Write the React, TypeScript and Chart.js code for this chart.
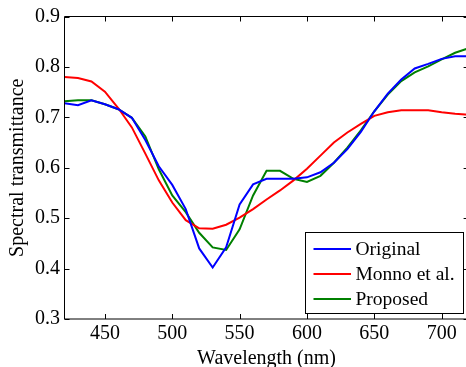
import React, { useEffect, useRef } from "react";
import { Chart, registerables } from "chart.js";

Chart.register(...registerables);

const wavelengths = [420, 430, 440, 450, 460, 470, 480, 490, 500, 510, 520, 530, 540, 550, 560, 570, 580, 590, 600, 610, 620, 630, 640, 650, 660, 670, 680, 690, 700, 710, 720];

const original = [0.728, 0.724, 0.734, 0.726, 0.716, 0.699, 0.655, 0.603, 0.566, 0.518, 0.440, 0.402, 0.442, 0.527, 0.567, 0.578, 0.578, 0.578, 0.581, 0.591, 0.610, 0.637, 0.671, 0.712, 0.747, 0.775, 0.797, 0.806, 0.816, 0.821, 0.821];

const monno = [0.780, 0.778, 0.771, 0.751, 0.718, 0.680, 0.628, 0.575, 0.531, 0.496, 0.480, 0.479, 0.487, 0.501, 0.518, 0.537, 0.555, 0.575, 0.598, 0.624, 0.650, 0.670, 0.687, 0.703, 0.710, 0.714, 0.714, 0.714, 0.710, 0.707, 0.705];

const proposed = [0.732, 0.734, 0.734, 0.726, 0.716, 0.699, 0.662, 0.597, 0.545, 0.512, 0.471, 0.442, 0.437, 0.478, 0.545, 0.594, 0.594, 0.578, 0.572, 0.584, 0.610, 0.640, 0.674, 0.712, 0.745, 0.772, 0.789, 0.801, 0.815, 0.828, 0.837];

const seriesLabels = ["Original", "Monno et al.", "Proposed"];
const seriesColors = ["#0000ff", "#ff0000", "#008000"];

const xTicks = [450, 500, 550, 600, 650, 700];
const yTicks = [0.3, 0.4, 0.5, 0.6, 0.7, 0.8, 0.9];

const FONT = '"Liberation Serif"';

const axesBox = {
  id: "axesBox",
  afterDatasetsDraw(chart: any) {
    const { ctx, chartArea } = chart;
    const { left, right, top, bottom } = chartArea;
    const xs = chart.scales.x;
    const ys = chart.scales.y;
    const tl = 5;
    ctx.save();
    ctx.strokeStyle = "#000";
    ctx.lineWidth = 1;
    ctx.beginPath();
    ctx.rect(left, top, right - left, bottom - top);
    for (const t of xs.ticks) {
      const px = Math.round(xs.getPixelForValue(t.value)) + 0.5;
      ctx.moveTo(px, bottom);
      ctx.lineTo(px, bottom - tl);
      ctx.moveTo(px, top);
      ctx.lineTo(px, top + tl);
    }
    for (const t of ys.ticks) {
      const py = Math.round(ys.getPixelForValue(t.value)) + 0.5;
      ctx.moveTo(left, py);
      ctx.lineTo(left + tl, py);
      ctx.moveTo(right, py);
      ctx.lineTo(right - tl, py);
    }
    ctx.stroke();
    ctx.restore();
  },
};

const boxLegend = {
  id: "boxLegend",
  afterDatasetsDraw(chart: any) {
    const { ctx, chartArea } = chart;
    const w = 158;
    const h = 81;
    const bx = Math.round(chartArea.right - 5.3 - w) + 0.5;
    const by = Math.round(chartArea.bottom - 6.3 - h) + 0.5;
    ctx.save();
    ctx.fillStyle = "#fff";
    ctx.fillRect(bx, by, w, h);
    ctx.strokeStyle = "#000";
    ctx.lineWidth = 1;
    ctx.strokeRect(bx, by, w, h);
    ctx.font = `19.5px ${FONT}`;
    ctx.textBaseline = "middle";
    ctx.textAlign = "left";
    chart.data.datasets.forEach((ds: any, i: number) => {
      const ry = by + 16.6 + i * 25;
      ctx.strokeStyle = ds.borderColor;
      ctx.lineWidth = 2;
      ctx.beginPath();
      ctx.moveTo(bx + 8, ry);
      ctx.lineTo(bx + 45.5, ry);
      ctx.stroke();
      ctx.fillStyle = "#000";
      ctx.fillText(ds.label, bx + 50, ry + 1);
    });
    ctx.restore();
  },
};

export default function App() {
  const ref = useRef<HTMLCanvasElement | null>(null);

  useEffect(() => {
    document.body.style.margin = "0";
    const canvas = ref.current;
    if (!canvas) return;
    let chart: Chart | null = null;
    let cancelled = false;
    const build = () => {
      if (cancelled) return;
      const series = [original, monno, proposed];
      chart = new Chart(canvas, {
        type: "line",
        data: {
          datasets: series.map((s, i) => ({
            label: seriesLabels[i],
            data: wavelengths.map((x, j) => ({ x, y: s[j] })),
            borderColor: seriesColors[i],
            backgroundColor: seriesColors[i],
            borderWidth: 2,
            pointRadius: 0,
            tension: 0,
            fill: false,
          })),
        },
        options: {
          responsive: false,
          animation: false,
          devicePixelRatio: 1,
          layout: { padding: { top: 15, right: 1.4, left: 0, bottom: 0 } },
          plugins: {
            legend: { display: false },
            tooltip: { enabled: false },
          },
          scales: {
            x: {
              type: "linear",
              min: 420,
              max: 720,
              afterBuildTicks: (axis: any) => {
                axis.ticks = xTicks.map((v) => ({ value: v }));
              },
              afterFit: (scale: any) => {
                scale.height = 48;
              },
              grid: { display: false, drawTicks: false },
              border: { display: false },
              ticks: {
                color: "#000",
                padding: 3,
                maxRotation: 0,
                font: { family: FONT, size: 20 },
              },
              title: {
                display: true,
                text: "Wavelength (nm)",
                color: "#000",
                font: { family: FONT, size: 20 },
                padding: { top: 0, bottom: -4 },
              },
            },
            y: {
              type: "linear",
              min: 0.3,
              max: 0.9,
              afterBuildTicks: (axis: any) => {
                axis.ticks = yTicks.map((v) => ({ value: v }));
              },
              afterFit: (scale: any) => {
                scale.width = 64.5;
              },
              grid: { display: false, drawTicks: false },
              border: { display: false },
              ticks: {
                color: "#000",
                padding: 4.5,
                font: { family: FONT, size: 20 },
                callback: (v: any) => Number(v).toFixed(1),
              },
              title: {
                display: true,
                text: "Spectral transmittance",
                color: "#000",
                font: { family: FONT, size: 20 },
                padding: { top: 5.5, bottom: 0 },
              },
            },
          },
        },
        plugins: [axesBox, boxLegend],
      });
    };
    const fonts: any = (document as any).fonts;
    if (fonts && fonts.load) {
      Promise.all([fonts.load('20px "Liberation Serif"'), fonts.load('19.5px "Liberation Serif"')])
        .catch(() => null)
        .then(build);
    } else {
      build();
    }
    return () => {
      cancelled = true;
      if (chart) chart.destroy();
    };
  }, []);

  return (
    <div style={{ position: "fixed", left: 0, top: 0, width: 466, height: 367, overflow: "hidden", background: "#fff" }}>
      <canvas ref={ref} width={470} height={367} style={{ display: "block" }} />
    </div>
  );
}
